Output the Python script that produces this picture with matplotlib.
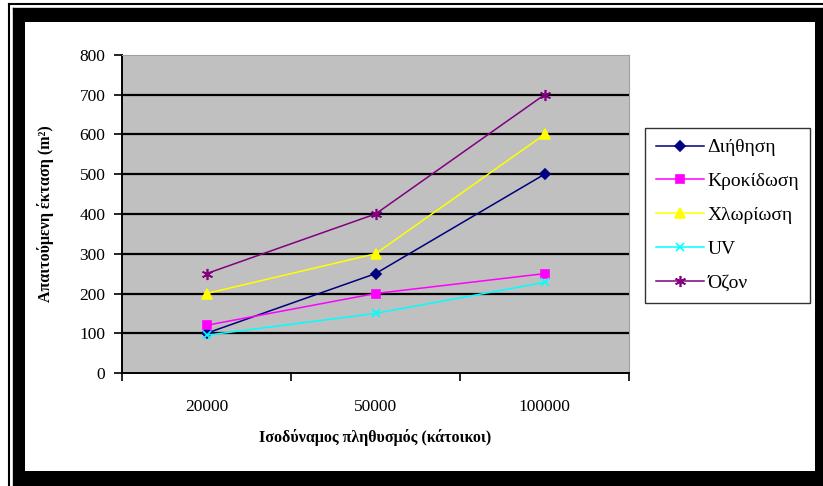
import matplotlib
matplotlib.use('Agg')
import matplotlib.pyplot as plt
from matplotlib.patches import Rectangle

categories = ['20000', '50000', '100000']
series_names = ['Διήθηση', 'Κροκίδωση', 'Χλωρίωση', 'UV', 'Όζον']
dithisi = [100, 250, 500]
krokidosi = [120, 200, 250]
chloriosi = [200, 300, 600]
uv = [95, 150, 228]
ozon = [250, 400, 700]
y_ticks = [0, 100, 200, 300, 400, 500, 600, 700, 800]

plt.rcParams['font.family'] = ['Liberation Serif', 'DejaVu Serif']

W, H = 823, 486
fig = plt.figure(figsize=(W / 100, H / 100), dpi=100)


def px(x0, y0, x1, y1):
    # rectangle from top-left pixel coords to figure fraction
    return (x0 / W, 1 - y1 / H), (x1 - x0) / W, (y1 - y0) / H


# frame around the picture
for box in [(14, 9, 25, 486), (14, 9, 823, 22), (815, 9, 823, 486), (14, 471, 823, 486)]:
    xy, w, h = px(*box)
    fig.patches.append(Rectangle(xy, w, h, transform=fig.transFigure,
                                 facecolor='black', edgecolor='none'))
fig.add_artist(plt.Line2D([8.5 / W, 8.5 / W], [0, 1 - 4.5 / H], color='black', lw=1.5,
                          transform=fig.transFigure))
fig.add_artist(plt.Line2D([8.5 / W, 1], [1 - 4.5 / H, 1 - 4.5 / H], color='black', lw=1.5,
                          transform=fig.transFigure))
fig.add_artist(plt.Line2D([12.5 / W, 12.5 / W], [0, 1 - 8.5 / H], color='black', lw=1,
                          transform=fig.transFigure))
fig.add_artist(plt.Line2D([12.5 / W, 1], [1 - 8.5 / H, 1 - 8.5 / H], color='black', lw=1,
                          transform=fig.transFigure))

ax = fig.add_axes([122 / W, 1 - 373 / H, (629 - 122) / W, (373 - 55) / H])
ax.set_facecolor('#C0C0C0')

x = list(range(len(categories)))
styles = [
    (dithisi, '#000080', 'D', 5),
    (krokidosi, '#FF00FF', 's', 6),
    (chloriosi, '#FFFF00', '^', 7),
    (uv, '#00FFFF', 'x', 6),
    (ozon, '#800080', (6, 2, 0), 8),
]
for name, (vals, col, mk, ms) in zip(series_names, styles):
    ax.plot(x, vals, color=col, lw=1.1, marker=mk, markersize=ms,
            markeredgewidth=1.2, label=name, zorder=3)

ax.set_xlim(-0.5, 2.5)
ax.set_ylim(0, 800)
ax.set_yticks(y_ticks)
ax.set_yticklabels([str(v) for v in y_ticks], fontsize=12.5)
for v in y_ticks[1:-1]:
    ax.axhline(v, color='black', lw=1.6, zorder=1)

ax.set_xticks([-0.5, 0.5, 1.5, 2.5])
ax.set_xticklabels([])
ax.set_xticks(x, minor=True)
ax.set_xticklabels(categories, minor=True, fontsize=12.5)
ax.tick_params(axis='x', which='minor', length=0, pad=19)
ax.tick_params(axis='x', which='major', length=6, width=1.2, direction='out')
ax.tick_params(axis='y', length=6, width=1.2, direction='out', pad=6)

for s in ['top', 'right']:
    ax.spines[s].set_color('#A0A0A0')
    ax.spines[s].set_linewidth(0.8)
ax.spines['left'].set_linewidth(1.4)
ax.spines['bottom'].set_linewidth(1.4)

ax.set_xlabel('Ισοδύναμος πληθυσμός (κάτοικοι)', fontsize=11.5, fontweight='bold', labelpad=10)
ax.set_ylabel('Απαιτούμενη έκταση (m²)', fontsize=11.5, fontweight='bold', labelpad=18)

leg = fig.legend(loc='upper left', bbox_to_anchor=(645 / W, 1 - 128 / H),
                 borderaxespad=0, frameon=True, fancybox=False, fontsize=14,
                 labelspacing=0.84, handlelength=2.5, handletextpad=0.15,
                 borderpad=0.55)
leg.get_frame().set_edgecolor('black')
leg.get_frame().set_linewidth(1.0)

fig.savefig('out.png', dpi=100)
